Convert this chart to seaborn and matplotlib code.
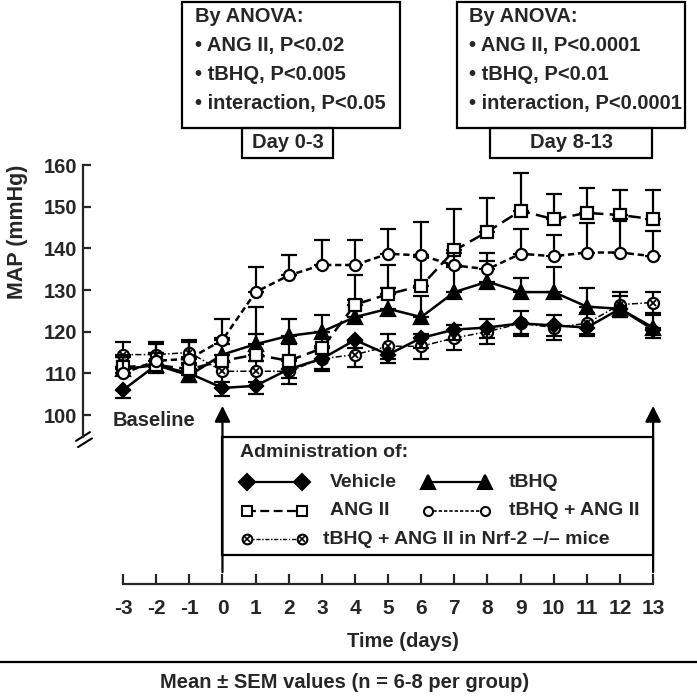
import seaborn as sns
import matplotlib.pyplot as plt
import pandas as pd
import numpy as np
from matplotlib.patches import Rectangle
from matplotlib.lines import Line2D

# ---------------------------------------------------------------
# MAP (mmHg) per group, days -3 .. 13, mean and SEM
# ---------------------------------------------------------------
days = list(range(-3, 14))

vehicle = [106, 112, 110, 106.5, 107, 111, 113.5, 118, 114.5, 118.5, 120.5, 121, 122, 121.5, 121, 125.5, 120.5]
vehicle_sem = [2, 2, 2, 2, 2, 2, 2.5, 2, 2, 2.5, 2.5, 2.5, 2.5, 2.5, 2, 2, 2]

tbhq = [111, 112, 109.5, 114.5, 117, 119, 120, 123.5, 125.5, 123.5, 129.5, 132, 129.5, 129.5, 126, 125.5, 121]
tbhq_sem = [3, 3, 3, 4, 9, 4, 4, 4, 5, 5, 6, 5, 3.5, 6, 4.5, 3, 3]

ang2 = [111.5, 112, 111, 113, 114.5, 113, 116, 126.5, 129, 131, 139.5, 144, 149, 147, 148.5, 148, 147]
ang2_sem = [3, 3, 3, 4, 5, 4, 4, 7, 7, 7, 10, 8, 9, 6, 6, 6, 7]

tbhq_ang2 = [110, 113, 113.5, 118, 129.5, 133.5, 136, 136, 138.7, 138.3, 135.9, 135, 138.7, 138.1, 139, 139, 138.1]
tbhq_ang2_sem = [4, 4, 4, 5, 6, 5, 6, 6, 6, 8, 3, 4, 6, 5, 7, 8, 6]

nrf2_ko = [114.5, 114.5, 115, 110.5, 110.5, 110.5, 113.5, 114.5, 116.5, 116.5, 118.5, 120, 122, 121, 122, 126.5, 127]
nrf2_ko_sem = [3, 3, 3, 2.5, 2.5, 3, 3, 3, 3, 3, 3, 3, 3, 3, 2.5, 3, 2.5]

y_ticks = [100, 110, 120, 130, 140, 150, 160]

anova_early = ["By ANOVA:", "\u2022 ANG II, P<0.02", "\u2022 tBHQ, P<0.005", "\u2022 interaction, P<0.05"]
anova_late = ["By ANOVA:", "\u2022 ANG II, P<0.0001", "\u2022 tBHQ, P<0.01", "\u2022 interaction, P<0.0001"]

# ---------------------------------------------------------------
# Style
# ---------------------------------------------------------------
sns.set_style("ticks")
plt.rcParams['font.family'] = ['Liberation Sans', 'DejaVu Sans']
plt.rcParams['font.weight'] = 'bold'
plt.rcParams['axes.labelweight'] = 'bold'

W, H = 697, 699
fig = plt.figure(figsize=(W / 100, H / 100), dpi=100)


def fx(px):
    return px / W


def fy(py):
    return 1 - py / H


ax = fig.add_axes([fx(83), fy(584), fx(673) - fx(83), fy(150) - fy(584)])
ax.set_xlim(-4.21, 13.6)
ax.set_ylim(59.45, 163.6)

# name, means, sem, error direction, marker, size, face, linestyle, linewidth
series = [
    ("nrf2", nrf2_ko, nrf2_ko_sem, "both", "o", 8, "white", (0, (4, 1.5, 1, 1.5)), 1.1),
    ("vehicle", vehicle, vehicle_sem, "down", "D", 7.5, "black", "-", 1.8),
    ("tbhq", tbhq, tbhq_sem, "up", "^", 10, "black", "-", 1.8),
    ("ang2", ang2, ang2_sem, "up", "s", 8, "white", (0, (5, 2.5)), 1.8),
    ("tbhq_ang2", tbhq_ang2, tbhq_ang2_sem, "up", "o", 8, "white", (0, (2.5, 1.5)), 1.8),
]

for i, (name, vals, sem, direction, mk, ms, face, ls, lw) in enumerate(series):
    sem = np.array(sem)
    lower = sem if direction in ("down", "both") else np.zeros_like(sem)
    upper = sem if direction in ("up", "both") else np.zeros_like(sem)
    ax.errorbar(days, vals, yerr=[lower, upper], fmt="none", ecolor="black",
                elinewidth=1.6, capsize=5.5, capthick=1.6, zorder=2 + i)
    sns.lineplot(x=days, y=vals, ax=ax, color="black", linestyle=ls, linewidth=lw,
                 marker=mk, markersize=ms, markerfacecolor=face,
                 markeredgecolor="black", markeredgewidth=1.6, errorbar=None,
                 zorder=2.5 + i)
    if name == "nrf2":
        ax.plot(days, vals, ls="none", marker="x", markersize=5,
                markeredgewidth=1.3, color="black", zorder=2.6)

# axes
for s in ["top", "right"]:
    ax.spines[s].set_visible(False)
ax.spines["left"].set_bounds(94.8, 160)
ax.spines["bottom"].set_bounds(-3, 13)
ax.spines["left"].set_linewidth(1.6)
ax.spines["bottom"].set_linewidth(1.6)
ax.set_yticks(y_ticks)
ax.set_xticks(days)
ax.set_xticklabels([str(d) for d in days])
ax.tick_params(axis="x", direction="in", length=7, width=1.6, pad=11, labelsize=15)
ax.tick_params(axis="y", direction="in", length=6, width=1.6, pad=4, labelsize=14.5)
ax.set_xlabel("Time (days)", fontsize=14.5)
ax.xaxis.set_label_coords(0.542, -0.111)
ax.set_ylabel("MAP (mmHg)", fontsize=15.5)
ax.yaxis.set_label_coords(-0.094, 0.811)

# axis break marks
ax.plot([-4.42, -4.0], [93.8, 95.9], color="black", lw=1.5, clip_on=False)
ax.plot([-4.36, -3.94], [92.3, 94.4], color="black", lw=1.5, clip_on=False)

ax.text(-3.305, 98.8, "Baseline", fontsize=14.5, ha="left", va="center")

# administration arrows
for d in (0, 13):
    ax.annotate("", xy=(d, 102.2), xytext=(d, 62.3),
                arrowprops=dict(arrowstyle="-|>", color="black", lw=1.6,
                                mutation_scale=24, shrinkA=0, shrinkB=0))

# legend box
ax.add_patch(Rectangle((0, 66.4), 13, 28.3, fill=False, lw=1.6, ec="black", clip_on=False))
ax.text(0.53, 90.9, "Administration of:", fontsize=14, ha="left", va="center")

keys = [
    (0.74, 2.40, 83.9, "D", "black", "-", 1.6, 8, "Vehicle", 3.24),
    (6.21, 7.93, 83.9, "^", "black", "-", 1.6, 10.5, "tBHQ", 8.65),
    (0.74, 2.40, 77.0, "s", "white", (0, (4, 2)), 1.6, 7.5, "ANG II", 3.24),
    (6.21, 7.93, 77.0, "o", "white", (0, (2, 1.2)), 1.2, 6.5, "tBHQ + ANG II", 8.65),
    (0.74, 2.40, 70.2, "o", "white", (0, (3, 1.2, 1, 1.2)), 1.0, 7, "tBHQ + ANG II in Nrf-2 \u2013/\u2013 mice", 3.04),
]
for x0, x1, yk, mk, face, ls, lw, ms, lab, xt in keys:
    ax.add_line(Line2D([x0, x1], [yk, yk], color="black", ls=ls, lw=lw, marker=mk,
                       markersize=ms, markerfacecolor=face, markeredgecolor="black",
                       markeredgewidth=1.5, clip_on=False))
    if lab.startswith("tBHQ + ANG II in"):
        ax.add_line(Line2D([x0, x1], [yk, yk], ls="none", marker="x", markersize=4.5,
                           markeredgewidth=1.2, color="black", clip_on=False))
    ax.text(xt, yk, lab, fontsize=14, ha="left", va="center")


# ANOVA boxes (figure pixel coordinates)
def box(x0, y0, x1, y1):
    fig.add_artist(Rectangle((fx(x0), fy(y1)), fx(x1) - fx(x0), fy(y0) - fy(y1),
                             transform=fig.transFigure, fill=False, lw=1.6, ec="black"))


box(182, 2, 400, 128)
box(242, 128, 333, 158)
box(457, 2, 685, 128)
box(490, 128, 652, 158)
for j, line in enumerate(anova_early):
    fig.text(fx(195), fy(16 + 29 * j), line, fontsize=14.5, ha="left", va="center")
for j, line in enumerate(anova_late):
    fig.text(fx(469), fy(16 + 29 * j), line, fontsize=14.5, ha="left", va="center")
fig.text(fx(287.5), fy(143), "Day 0-3", fontsize=14.5, ha="center", va="center")
fig.text(fx(571), fy(143), "Day 8-13", fontsize=14.5, ha="center", va="center")

# footer
fig.add_artist(Line2D([0, 1], [fy(662), fy(662)], transform=fig.transFigure, color="black", lw=1.6))
fig.text(fx(345), fy(683), "Mean \u00b1 SEM values (n = 6-8 per group)", fontsize=14.5,
         ha="center", va="center")

plt.savefig("out.png", dpi=100)
